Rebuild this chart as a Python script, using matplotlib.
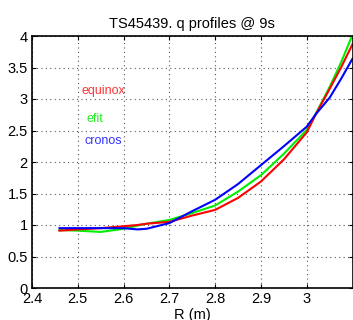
import numpy as np
import matplotlib
matplotlib.use("Agg")
import matplotlib.pyplot as plt

# major radius (m)
R = [2.46, 2.50, 2.55, 2.60, 2.63, 2.65, 2.70, 2.75, 2.80, 2.85, 2.90, 2.95, 3.00, 3.02, 3.05, 3.075, 3.10]

q_equinox = [0.91, 0.93, 0.95, 0.98, 1.00, 1.02, 1.05, 1.15, 1.24, 1.43, 1.69, 2.04, 2.47, 2.76, 3.16, 3.50, 3.87]
q_efit    = [0.92, 0.91, 0.89, 0.94, 0.99, 1.02, 1.08, 1.19, 1.31, 1.53, 1.79, 2.13, 2.51, 2.77, 3.19, 3.58, 4.02]
q_cronos  = [0.95, 0.95, 0.95, 0.95, 0.93, 0.94, 1.03, 1.22, 1.40, 1.65, 1.95, 2.25, 2.56, 2.76, 3.02, 3.32, 3.64]

xticks = [2.4, 2.5, 2.6, 2.7, 2.8, 2.9, 3.0]
xticklabels = ['2.4', '2.5', '2.6', '2.7', '2.8', '2.9', '3']
yticks = [0, 0.5, 1, 1.5, 2, 2.5, 3, 3.5, 4]
yticklabels = ['0', '0.5', '1', '1.5', '2', '2.5', '3', '3.5', '4']

plt.rcParams['font.family'] = ['Liberation Sans', 'DejaVu Sans']

fig = plt.figure(figsize=(3.53, 3.2), dpi=100)
ax = fig.add_axes([32 / 353, 32 / 320, 320.5 / 353, 252 / 320])

ax.plot(R, q_efit, color='#00ee00', linewidth=1.5)
ax.plot(R, q_equinox, color='#ff0000', linewidth=1.5)
ax.plot(R, q_cronos, color='#0000ff', linewidth=1.5)

ax.text(2.508, 3.13, 'equinox', color='#ff3333', fontsize=9, va='center')
ax.text(2.519, 2.69, 'efit', color='#22ee22', fontsize=9, va='center')
ax.text(2.514, 2.33, 'cronos', color='#3333ff', fontsize=9, va='center')

ax.set_xlim(2.4, 3.1)
ax.set_ylim(0, 4)
ax.set_xticks(xticks)
ax.set_xticklabels(xticklabels)
ax.set_yticks(yticks)
ax.set_yticklabels(yticklabels)
ax.tick_params(direction='in', top=True, right=True, labelsize=10.5, length=3, pad=3)
ax.grid(True, linestyle=(0, (1, 3)), color='#555555', linewidth=0.8)
for s in ax.spines.values():
    s.set_linewidth(1.2)

ax.set_title('TS45439. q profiles @ 9s', fontsize=10.5, pad=6)
ax.set_xlabel('R (m)', fontsize=10.5, labelpad=1)

fig.savefig('out.png', dpi=100)
